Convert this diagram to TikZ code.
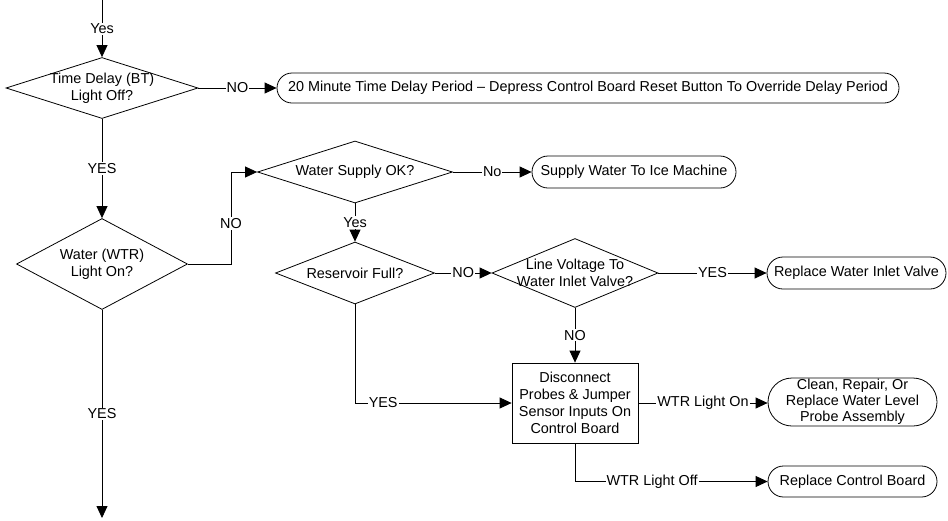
\documentclass[tikz,border=0pt]{standalone}
\usepackage{fontspec}
\setmainfont{Liberation Sans}
\usetikzlibrary{shapes.geometric,arrows.meta,calc}
\begin{document}
\begin{tikzpicture}[x=1pt,y=-1pt,
  font=\fontsize{14.4}{17}\selectfont,
  line width=0.8pt,
  dia/.style={diamond, draw, inner sep=0pt},
  term/.style={rectangle, draw, inner sep=0pt, align=center},
  procbox/.style={rectangle, draw, inner sep=0pt, align=center, minimum width=126pt, minimum height=80pt},
  arr/.style={-{Triangle[length=12pt,width=11pt]}},
  lbl/.style={fill=white, inner sep=1pt}]
\useasboundingbox (0,0) rectangle (948,520);

% decision nodes
\node[dia, minimum width=192pt, minimum height=61pt,
  label={[align=center]center:Time Delay (BT)\\Light Off?}] (d1) at (102,88) {};
\node[dia, minimum width=171pt, minimum height=91pt,
  label={[align=center]center:Water (WTR)\\Light On?}] (d2) at (102,264) {};
\node[dia, minimum width=195pt, minimum height=62pt,
  label={[align=center]center:Water Supply OK?}] (d3) at (355,172) {};
\node[dia, minimum width=159pt, minimum height=62pt,
  label={[align=center]center:Reservoir Full?}] (d4) at (355,273) {};
\node[dia, minimum width=166pt, minimum height=69pt,
  label={[align=center]center:Line Voltage To\\Water Inlet Valve?}] (d5) at (575,273) {};

% terminals
\node[term, rounded corners=15pt, minimum width=622pt, minimum height=30pt] (t1) at (588,88)
  {20 Minute Time Delay Period -- Depress Control Board Reset Button To Override Delay Period};
\node[term, rounded corners=16pt, minimum width=204pt, minimum height=32pt] (t2) at (634,172)
  {Supply Water To Ice Machine};
\node[term, rounded corners=16pt, minimum width=179pt, minimum height=32pt] (t3) at (856.5,273)
  {Replace Water Inlet Valve};
\node[term, rounded corners=24pt, minimum width=169pt, minimum height=48pt,
  font=\fontsize{14.4}{16}\selectfont] (t4) at (852.5,402)
  {Clean, Repair, Or\\Replace Water Level\\Probe Assembly};
\node[term, rounded corners=15.5pt, minimum width=169pt, minimum height=31pt] (t5) at (852.5,481.5)
  {Replace Control Board};

% process box
\node[procbox] (b) at (575,403) {Disconnect\\Probes \& Jumper\\Sensor Inputs On\\Control Board};

% free ends and bends
\coordinate (top) at (102,0);
\coordinate (bot) at (102,518);
\coordinate (j1) at (231,172);
\coordinate (j2) at (575,481.5);

% connectors
\draw[arr] (top) -- node[lbl]{Yes} (d1.north);
\draw[arr] (d1.east) -- node[lbl]{NO} (t1.west);
\draw[arr] (d1.south) -- node[lbl]{YES} (d2.north);
\draw[arr] (d2.south) -- node[lbl]{YES} (bot);
\draw[arr] (d2.east) -| node[lbl, pos=0.72]{NO} (j1) -- (d3.west);
\draw[arr] (d3.east) -- node[lbl]{No} (t2.west);
\draw[arr] (d3.south) -- node[lbl]{Yes} (d4.north);
\draw[arr] (d4.east) -- node[lbl]{NO} (d5.west);
\draw[arr] (d5.east) -- node[lbl]{YES} (t3.west);
\draw[arr] (d5.south) -- node[lbl]{NO} (b.north);
\draw[arr] (d4.south) |- node[lbl, pos=0.59]{YES} (b.west);
\draw[arr] (b.east) -- node[lbl]{WTR Light On} (b.east -| t4.west);
\draw[arr] (b.south) -- (j2) -- node[lbl, pos=0.4]{WTR Light Off} (t5.west);
\end{tikzpicture}
\end{document}
